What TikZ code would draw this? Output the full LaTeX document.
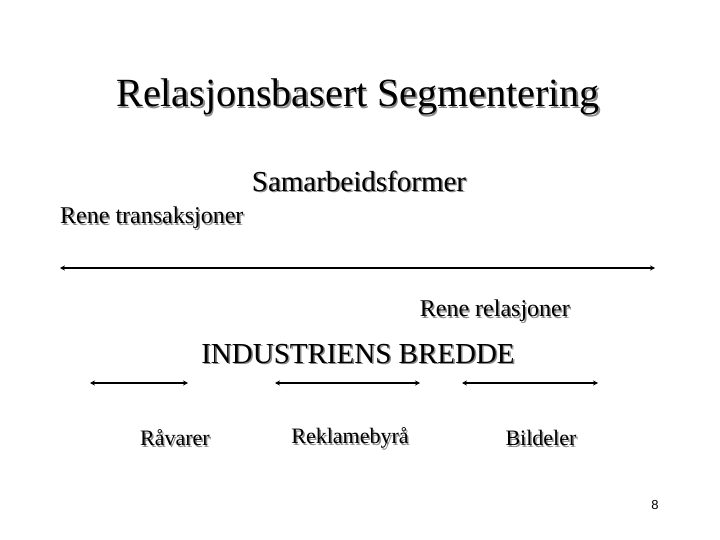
\documentclass[tikz,border=0pt]{standalone}
\usepackage{fontspec}
\setmainfont{Liberation Serif}
\newfontfamily\sansf{Liberation Sans}
\usetikzlibrary{arrows.meta}
\tikzset{
 sh/.style={text=black!45},
 arr/.style={line width=1.5pt,{Stealth[length=5pt,width=5pt]}-{Stealth[length=5pt,width=5pt]}},
 lbl/.style={inner sep=0pt,anchor=center}
}
\newcommand{\shtxt}[4]{% pos, name, font, text
  \node[lbl,sh,font=#3] at ($(#1)+(1.5pt,-1.5pt)$) {#4};
  \node[lbl,font=#3] (#2) at (#1) {#4};}
\usetikzlibrary{calc}
\begin{document}
\begin{tikzpicture}[x=1pt,y=-1pt]
\useasboundingbox (0,0) rectangle (720,540);
\shtxt{358,97}{title}{\fontsize{40}{44}\selectfont}{Relasjonsbasert Segmentering}
\shtxt{359,181}{samarb}{\fontsize{29}{32}\selectfont}{Samarbeidsformer}
\node[lbl,anchor=west,sh,font=\fontsize{24}{28}\selectfont] at (61.5,219.5) {Rene transaksjoner};
\node[lbl,anchor=west,font=\fontsize{24}{28}\selectfont] (rt) at (60,218) {Rene transaksjoner};
\coordinate (a1) at (60,268); \coordinate (a2) at (655,268);
\draw[arr] (a1) -- (a2);
\node[lbl,anchor=east,sh,font=\fontsize{24}{28}\selectfont] at (571.5,312.5) {Rene relasjoner};
\node[lbl,anchor=east,font=\fontsize{24}{28}\selectfont] (rr) at (570,311) {Rene relasjoner};
\shtxt{358,354}{ind}{\fontsize{29}{32}\selectfont}{INDUSTRIENS BREDDE}
\coordinate (b1) at (90,383); \coordinate (b2) at (188,383);
\coordinate (c1) at (275,383); \coordinate (c2) at (420,383);
\coordinate (d1) at (462,383); \coordinate (d2) at (598,383);
\draw[arr] (b1) -- (b2);
\draw[arr] (c1) -- (c2);
\draw[arr] (d1) -- (d2);
\shtxt{175,438}{rv}{\fontsize{22}{26}\selectfont}{Råvarer}
\shtxt{350,438}{rk}{\fontsize{22}{26}\selectfont}{Reklamebyrå}
\shtxt{541,438}{bd}{\fontsize{22}{26}\selectfont}{Bildeler}
\node[lbl,font=\sansf\fontsize{13}{15}\selectfont] (pg) at (655,505) {8};
\end{tikzpicture}
\end{document}
